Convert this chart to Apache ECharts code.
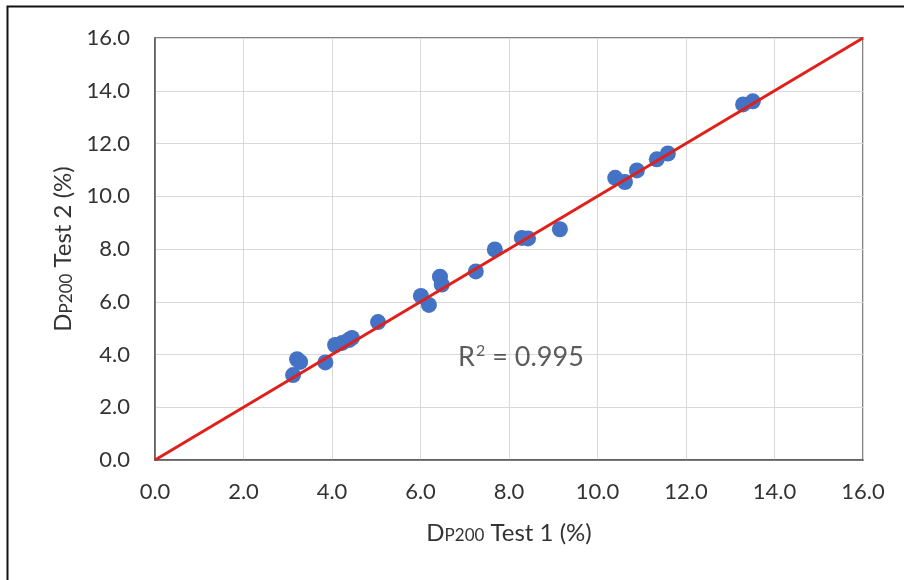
<!DOCTYPE html>
<html>
<head>
<meta charset="utf-8">
<script src="https://cdn.jsdelivr.net/npm/echarts@6/dist/echarts.min.js"></script>
<style>
html,body{margin:0;padding:0;background:#fff;}
#c{width:904px;height:580px;}
</style>
</head>
<body>
<div id="c"></div>
<script>
var test1 = [3.12, 3.21, 3.28, 3.85, 4.07, 4.23, 4.38, 4.45, 5.04, 6.01, 6.19, 6.44, 6.48, 7.25, 7.68, 8.29, 8.43, 9.15, 10.40, 10.62, 10.89, 11.34, 11.59, 13.29, 13.51];
var test2 = [3.22, 3.82, 3.72, 3.70, 4.36, 4.44, 4.55, 4.63, 5.23, 6.22, 5.88, 6.95, 6.65, 7.15, 7.98, 8.42, 8.40, 8.75, 10.70, 10.54, 10.98, 11.40, 11.62, 13.48, 13.60];
var lineX = [0, 16];
var lineY = [0, 16];
var r2Label = '{r|R}{s|2}{r| = 0.995}';
var r2Pos = [6.85, 3.9];
var ticks = [0, 2, 4, 6, 8, 10, 12, 14, 16];

var pts = test1.map(function (x, i) { return [x, test2[i]]; });
var linePts = lineX.map(function (x, i) { return [x, lineY[i]]; });
var font = 'Lato, "Open Sans", sans-serif';
var txt = '#333333';

var titleRich = {
  d: {fontSize: 24, fontFamily: font, color: txt},
  p: {fontSize: 17, fontFamily: font, color: txt, padding: [5, 0, 0, 0]},
  t: {fontSize: 24, fontFamily: font, color: txt}
};

var chart = echarts.init(document.getElementById('c'), null, {renderer: 'canvas'});
chart.setOption({
  animation: false,
  backgroundColor: '#fff',
  graphic: [{
    type: 'rect', left: 5, top: 4,
    shape: {width: 920, height: 600},
    style: {fill: 'none', stroke: '#111', lineWidth: 2},
    silent: true
  }],
  grid: {left: 155, top: 38, right: 41, bottom: 120, show: true, borderColor: '#595959', borderWidth: 1.5},
  xAxis: {
    type: 'value', min: 0, max: 16, interval: 2,
    axisLine: {show: true, lineStyle: {color: '#595959', width: 1.5}},
    axisTick: {show: false},
    splitLine: {show: true, lineStyle: {color: '#d9d9d9', width: 1}},
    axisLabel: {color: txt, fontSize: 22, fontFamily: font, margin: 21, formatter: function (v) { return v.toFixed(1); }},
    name: '{d|D}{p|P200}{t| Test 1 (%)}',
    nameLocation: 'middle', nameGap: 61,
    nameTextStyle: {rich: titleRich}
  },
  yAxis: {
    type: 'value', min: 0, max: 16, interval: 2,
    axisLine: {show: true, lineStyle: {color: '#595959', width: 1.5}},
    axisTick: {show: false},
    splitLine: {show: true, lineStyle: {color: '#d9d9d9', width: 1}},
    axisLabel: {color: txt, fontSize: 22, fontFamily: font, margin: 25, formatter: function (v) { return v.toFixed(1); }},
    name: '{d|D}{p|P200}{t| Test 2 (%)}',
    nameLocation: 'middle', nameGap: 75, nameRotate: 90,
    nameTextStyle: {rich: titleRich}
  },
  series: [
    {
      type: 'scatter', data: pts, symbolSize: 16,
      itemStyle: {color: '#4472C4', opacity: 1},
      z: 2
    },
    {
      type: 'line', data: linePts, symbol: 'none',
      lineStyle: {color: '#E0201B', width: 3},
      z: 3
    },
    {
      type: 'scatter', data: [r2Pos], symbolSize: 0,
      label: {show: true, position: 'right', distance: 0, formatter: r2Label,
        rich: {
          r: {fontSize: 27, fontFamily: font, color: txt},
          s: {fontSize: 16, fontFamily: font, color: txt, padding: [0, 0, 12, 1]}
        }},
      z: 4
    }
  ]
});
</script>
</body>
</html>
